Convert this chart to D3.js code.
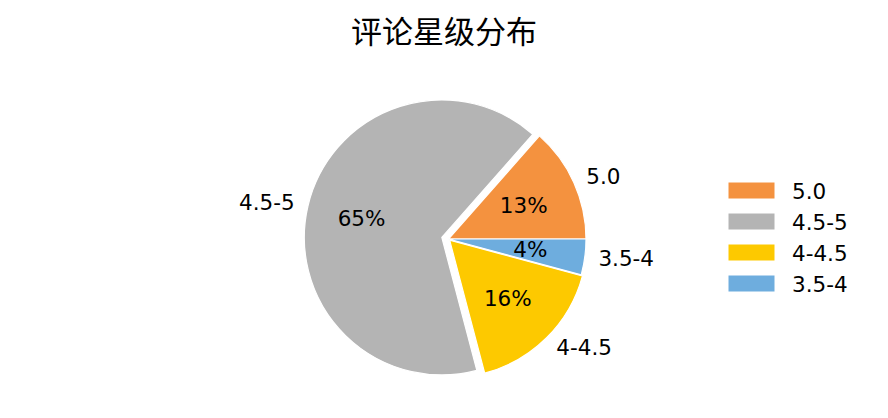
<!DOCTYPE html>
<html>
<head>
<meta charset="utf-8">
<script src="https://cdn.jsdelivr.net/npm/d3@7"></script>
<style>
  html, body { margin: 0; padding: 0; background: #fff; }
  svg { display: block; }
</style>
</head>
<body>
<svg id="chart" width="888" height="418"></svg>
<script>
const title = "评论星级分布";
const categories = ["5.0", "4.5-5", "4-4.5", "3.5-4"];
const values = [13.5, 65.6, 16.7, 4.2];
const pctLabels = ["13%", "65%", "16%", "4%"];
const colors = ["#F4923F", "#B4B4B4", "#FDC900", "#6EADDE"];
const explode = [0, 0.05, 0.012, 0];

const W = 888, H = 418;
const cx = 448.5, cy = 239, R = 137.5;
const labelFont = "'DejaVu Sans', sans-serif";
const fs = 21.5;

const svg = d3.select("#chart");

svg.append("text")
  .attr("x", 444).attr("y", 29)
  .attr("text-anchor", "middle")
  .attr("dominant-baseline", "central")
  .style("font-family", "'Noto Sans CJK SC', sans-serif")
  .style("font-size", "31px")
  .attr("fill", "#000")
  .text(title);

const pie = d3.pie().sort(null)
  .startAngle(Math.PI / 2)
  .endAngle(Math.PI / 2 - 2 * Math.PI)
  .value(d => d);
const arcs = pie(values);
const arc = d3.arc().innerRadius(0).outerRadius(R);

const g = svg.append("g").attr("transform", `translate(${cx},${cy})`);

arcs.forEach((a, i) => {
  const mid = (a.startAngle + a.endAngle) / 2;
  const ux = Math.sin(mid), uy = -Math.cos(mid);
  const off = explode[i] * R;
  const ox = ux * off, oy = uy * off;
  const wg = g.append("g").attr("transform", `translate(${ox},${oy})`);
  wg.append("path")
    .attr("d", arc({startAngle: a.startAngle, endAngle: a.endAngle}))
    .attr("fill", colors[i])
    .attr("stroke", "#fff")
    .attr("stroke-width", 1.2)
    .attr("stroke-linejoin", "round");
  const lx = ux * R * 1.1, ly = uy * R * 1.1;
  wg.append("text")
    .attr("x", lx).attr("y", ly)
    .attr("text-anchor", lx > 0 ? "start" : "end")
    .attr("dominant-baseline", "central")
    .style("font-family", labelFont)
    .style("font-size", fs + "px")
    .attr("fill", "#000")
    .text(categories[i]);
  wg.append("text")
    .attr("x", ux * R * 0.6).attr("y", uy * R * 0.6)
    .attr("text-anchor", "middle")
    .attr("dominant-baseline", "central")
    .style("font-family", labelFont)
    .style("font-size", fs + "px")
    .attr("fill", "#000")
    .text(pctLabels[i]);
});

const lg = svg.append("g");
categories.forEach((c, i) => {
  const y0 = 182 + i * 31;
  lg.append("rect")
    .attr("x", 728).attr("y", y0)
    .attr("width", 47).attr("height", 17)
    .attr("fill", colors[i])
    .attr("stroke", "#fff").attr("stroke-width", 1);
  lg.append("text")
    .attr("x", 792).attr("y", y0 + 9)
    .attr("dominant-baseline", "central")
    .style("font-family", labelFont)
    .style("font-size", fs + "px")
    .attr("fill", "#000")
    .text(c);
});
</script>
</body>
</html>
